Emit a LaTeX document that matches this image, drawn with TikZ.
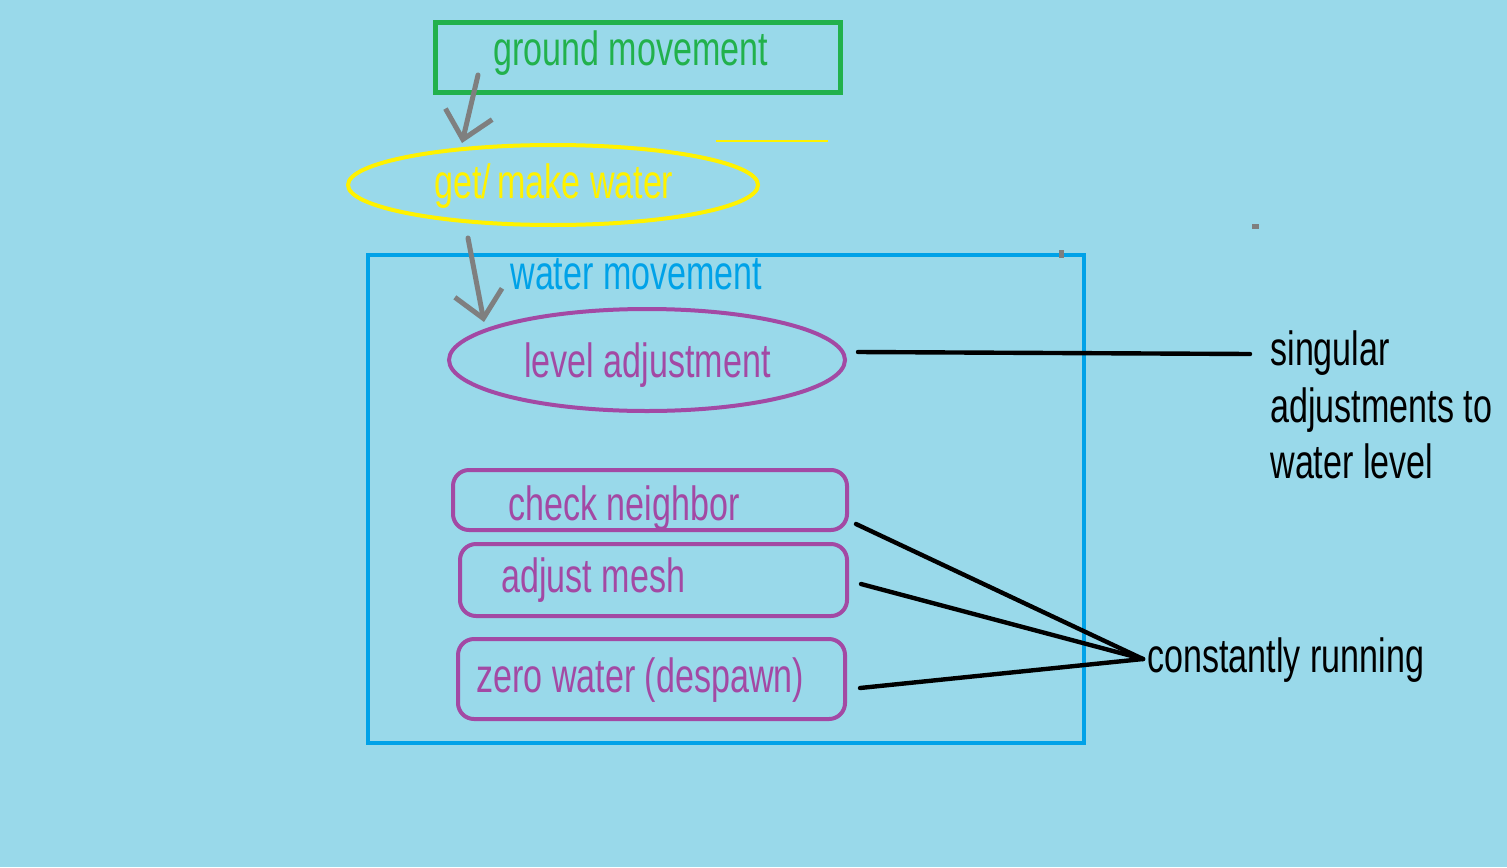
\documentclass[tikz,border=0pt]{standalone}
\usepackage{fontspec}
\setmainfont{Liberation Sans}[FakeStretch=0.71]
\usetikzlibrary{arrows.meta,shapes.geometric,calc}
\definecolor{bg}{RGB}{153,217,234}
\definecolor{pgreen}{RGB}{34,177,76}
\definecolor{pyellow}{RGB}{255,242,0}
\definecolor{pblue}{RGB}{0,162,232}
\definecolor{ppurple}{RGB}{163,73,164}
\definecolor{pgray}{RGB}{127,127,127}
\begin{document}
\begin{tikzpicture}[x=0.5pt,y=-0.5pt,
  lbl/.style={inner sep=0pt, anchor=base west, font=\fontsize{24}{28}\selectfont},
  shapebox/.style={inner sep=0pt, outer sep=0pt, anchor=center},
  flow/.style={draw=pgray, line width=2.5pt, line cap=round,
    -{Straight Barb[length=13pt, width=24pt, line width=2.5pt]}},
  link/.style={draw=black, line width=2.2pt, line cap=round}]
\useasboundingbox[fill=bg] (0,0) rectangle (1507,867);

% shapes
\node[shapebox, draw=pgreen, line width=2.5pt, minimum width=202.5pt, minimum height=35pt] (gmbox) at (638,57.5) {};
\node[shapebox, ellipse, draw=pyellow, line width=2pt, minimum width=205pt, minimum height=40pt] (gwell) at (553,185) {};
\node[shapebox, draw=pblue, line width=2pt, minimum width=358pt, minimum height=244pt] (wmbox) at (726,499) {};
\node[shapebox, ellipse, draw=ppurple, line width=2pt, minimum width=198pt, minimum height=51pt] (laell) at (647,360) {};
\node[shapebox, draw=ppurple, line width=2pt, rounded corners=8pt, minimum width=197pt, minimum height=30pt] (cnbox) at (650,500) {};
\node[shapebox, draw=ppurple, line width=2pt, rounded corners=8pt, minimum width=193.5pt, minimum height=36pt] (ambox) at (653.5,580) {};
\node[shapebox, draw=ppurple, line width=2pt, rounded corners=8pt, minimum width=193.5pt, minimum height=40pt] (zwbox) at (651.5,679) {};

% texts
\node[lbl, text=pgreen] (gmtext) at (493,65) {ground movement};
\node[lbl, text=pyellow] (gwtext) at (434,198) {get/\hspace{3pt}make water};
\node[lbl, text=pblue] (wmtext) at (510,289) {water movement};
\node[lbl, text=ppurple] (latext) at (524,377) {level adjustment};
\node[lbl, text=ppurple] (cntext) at (508,520) {check neighbor};
\node[lbl, text=ppurple] (amtext) at (501,592) {adjust mesh};
\node[lbl, text=ppurple] (zwtext) at (476,692) {zero water (despawn)};
\node[lbl, text=black] (crtext) at (1147,672) {constantly running};
\node[lbl, text=black] (sg1) at (1270,365) {singular};
\node[lbl, text=black] (sg2) at (1270,422) {adjustments to};
\node[lbl, text=black] (sg3) at (1270,478) {water level};

% arrows
\coordinate (a1s) at ($(gmbox.south west)+(42.5,-17.5)$);
\coordinate (a1e) at (462,143);
\coordinate (a2s) at ($(gwell.south)+(-85,13)$);
\coordinate (a2e) at (484,322);
\draw[flow] (a1s) -- (a1e);
\draw[flow] (a2s) -- (a2e);

% links
\coordinate (lae) at ($(laell.east)+(13,-8)$);
\coordinate (sge) at ($(sg1.base west)+(-20,-11)$);
\draw[link] (lae) -- (sge);
\coordinate (crw) at ($(crtext.base west)+(-4,-13)$);
\coordinate (cns) at ($(cnbox.east)+(9,24)$);
\coordinate (ams) at ($(ambox.east)+(14,4)$);
\coordinate (zws) at ($(zwbox.east)+(15,9)$);
\draw[link] (cns) -- (crw);
\draw[link] (ams) -- (crw);
\draw[link] (zws) -- (crw);

% stray marks
\draw[pyellow, line width=1pt] (716,141) -- (828,141);
\fill[pgray] (1252,224) rectangle (1259,229);
\fill[pgray] (1059,250) rectangle (1064,258);
\end{tikzpicture}
\end{document}
